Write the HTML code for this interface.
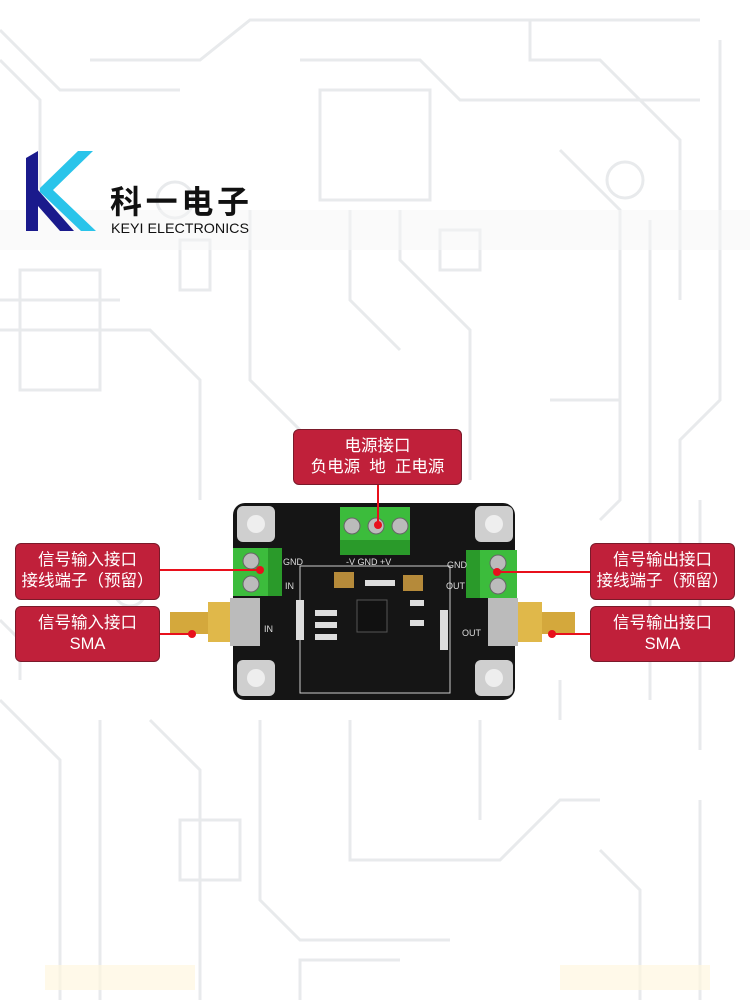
<!DOCTYPE html>
<html><head><meta charset="utf-8"><style>
html,body{margin:0;padding:0;background:#fff;}
body{width:750px;height:1000px;position:relative;overflow:hidden;font-family:"Liberation Sans","Noto Sans CJK SC",sans-serif;}
.box{position:absolute;background:#c0203a;border:1px solid #7a1a2a;border-radius:6px;color:#fff;text-align:center;font-size:16.5px;line-height:21px;box-sizing:border-box;}
</style></head><body>
<svg width="750" height="1000" style="position:absolute;left:0;top:0">
<g fill="none" stroke="#e8eaec" stroke-width="3">
<path d="M0 30 L60 90 L180 90 M0 60 L40 100 L40 200 M90 60 L200 60 L250 20 L700 20 M300 60 L420 60 L460 100 L700 100 M530 20 L530 60 L600 60 L680 140 L680 300 M720 40 L720 400 L680 440 L680 600"/>
<path d="M0 330 L150 330 L200 380 L200 500 M0 300 L120 300 M250 210 L250 380 L300 430 L300 480 M350 210 L350 300 L400 350 M400 210 L400 260 L470 330 L470 480 M560 150 L620 210 L620 500 L600 520 M650 220 L650 700 M700 500 L700 750"/>
<path d="M0 700 L60 760 L60 1000 M100 720 L100 1000 M150 720 L200 770 L200 1000 M260 720 L260 900 L300 940 L450 940 M350 720 L350 860 L500 860 L560 800 L600 800 M480 720 L480 820 M560 720 L560 680 M600 850 L640 890 L640 1000 M700 800 L700 1000 M0 620 L20 640 L20 680"/>
<path d="M320 90 L430 90 L430 200 L320 200 Z M440 230 L480 230 L480 270 L440 270 Z M20 270 L100 270 L100 390 L20 390 Z M180 240 L210 240 L210 290 L180 290 Z"/>
<path d="M300 1000 L300 960 L400 960 M180 820 L240 820 L240 880 L180 880 Z M260 540 L330 540 M550 400 L620 400"/>
<circle cx="175" cy="200" r="18"/><circle cx="625" cy="180" r="18"/><circle cx="130" cy="590" r="16"/>
</g>
<rect x="0" y="210" width="750" height="40" fill="#f6f6f6" opacity="0.5"/>
<!-- logo -->
<polygon points="26,158 38,151 38,231 26,231" fill="#1a1a8c"/>
<polygon points="38,190 74,231 60,231 38,206" fill="#1a1a8c"/>
<polygon points="40,188 78,151 93,151 53,190 96,231 81,231 40,192" fill="#2ac4ea"/>
<text x="110" y="213" font-size="32" font-weight="bold" fill="#111" font-family="Noto Sans CJK SC,sans-serif" textLength="139" lengthAdjust="spacing">科一电子</text>
<text x="111" y="233" font-size="14" fill="#111" font-family="Liberation Sans,sans-serif" textLength="138" lengthAdjust="spacingAndGlyphs">KEYI ELECTRONICS</text>
<!-- board -->
<rect x="233" y="503" width="282" height="197" rx="12" fill="#151515"/>
<g fill="#cfcfcf"><rect x="237" y="506" width="38" height="36" rx="6"/><rect x="475" y="506" width="38" height="36" rx="6"/><rect x="237" y="660" width="38" height="36" rx="6"/><rect x="475" y="660" width="38" height="36" rx="6"/></g>
<g fill="#eee"><circle cx="256" cy="524" r="9"/><circle cx="494" cy="524" r="9"/><circle cx="256" cy="678" r="9"/><circle cx="494" cy="678" r="9"/></g>
<rect x="300" y="566" width="150" height="127" fill="none" stroke="#ccc" stroke-width="1"/>
<rect x="340" y="507" width="70" height="48" fill="#3cbc3c"/><rect x="340" y="540" width="70" height="15" fill="#2a9a2a"/>
<rect x="233" y="548" width="49" height="48" fill="#3cbc3c"/><rect x="268" y="548" width="14" height="48" fill="#2a9a2a"/>
<rect x="466" y="550" width="51" height="48" fill="#3cbc3c"/><rect x="466" y="550" width="14" height="48" fill="#2a9a2a"/>
<g fill="#bbb" stroke="#666"><circle cx="352" cy="526" r="8"/><circle cx="376" cy="526" r="8"/><circle cx="400" cy="526" r="8"/><circle cx="251" cy="561" r="8"/><circle cx="251" cy="584" r="8"/><circle cx="498" cy="563" r="8"/><circle cx="498" cy="586" r="8"/></g>
<g fill="#ddd" font-size="9" font-family="Liberation Sans,sans-serif"><text x="283" y="565">GND</text><text x="285" y="589">IN</text><text x="447" y="568">GND</text><text x="446" y="589">OUT</text><text x="264" y="632">IN</text><text x="462" y="636">OUT</text><text x="346" y="565">-V GND +V</text></g>
<rect x="334" y="572" width="20" height="16" fill="#b58a3a"/><rect x="403" y="575" width="20" height="16" fill="#b58a3a"/>
<rect x="357" y="600" width="30" height="32" fill="#111" stroke="#555"/>
<g fill="#ddd"><rect x="315" y="610" width="22" height="6"/><rect x="315" y="622" width="22" height="6"/><rect x="315" y="634" width="22" height="6"/><rect x="410" y="600" width="14" height="6"/><rect x="410" y="620" width="14" height="6"/><rect x="365" y="580" width="30" height="6"/><rect x="296" y="600" width="8" height="40"/><rect x="440" y="610" width="8" height="40"/></g>
<!-- SMA -->
<rect x="170" y="612" width="40" height="22" fill="#d4a83c"/><rect x="208" y="602" width="30" height="40" fill="#e0b84a"/><rect x="230" y="598" width="30" height="48" fill="#bbb"/>
<rect x="535" y="612" width="40" height="22" fill="#d4a83c"/><rect x="512" y="602" width="30" height="40" fill="#e0b84a"/><rect x="488" y="598" width="30" height="48" fill="#bbb"/>
<!-- lines -->
<g stroke="#e8101c" stroke-width="2"><line x1="378" y1="485" x2="378" y2="525"/><line x1="160" y1="570" x2="260" y2="570"/><line x1="160" y1="634" x2="192" y2="634"/><line x1="497" y1="572" x2="590" y2="572"/><line x1="552" y1="634" x2="590" y2="634"/></g>
<g fill="#e8101c"><circle cx="378" cy="525" r="4"/><circle cx="260" cy="570" r="4"/><circle cx="192" cy="634" r="4"/><circle cx="497" cy="572" r="4"/><circle cx="552" cy="634" r="4"/></g>
<rect x="45" y="965" width="150" height="25" fill="#fff7e0" opacity="0.7"/><rect x="560" y="965" width="150" height="25" fill="#fff7e0" opacity="0.7"/>
</svg>
<div class="box" style="left:293px;top:429px;width:169px;height:56px;padding-top:6px;">电源接口<br>负电源&nbsp; 地&nbsp; 正电源</div>
<div class="box" style="left:15px;top:543px;width:145px;height:57px;padding-top:6px;">信号输入接口<br>接线端子（预留）</div>
<div class="box" style="left:15px;top:606px;width:145px;height:56px;padding-top:6px;">信号输入接口<br>SMA</div>
<div class="box" style="left:590px;top:543px;width:145px;height:57px;padding-top:6px;">信号输出接口<br>接线端子（预留）</div>
<div class="box" style="left:590px;top:606px;width:145px;height:56px;padding-top:6px;">信号输出接口<br>SMA</div>
</body></html>
